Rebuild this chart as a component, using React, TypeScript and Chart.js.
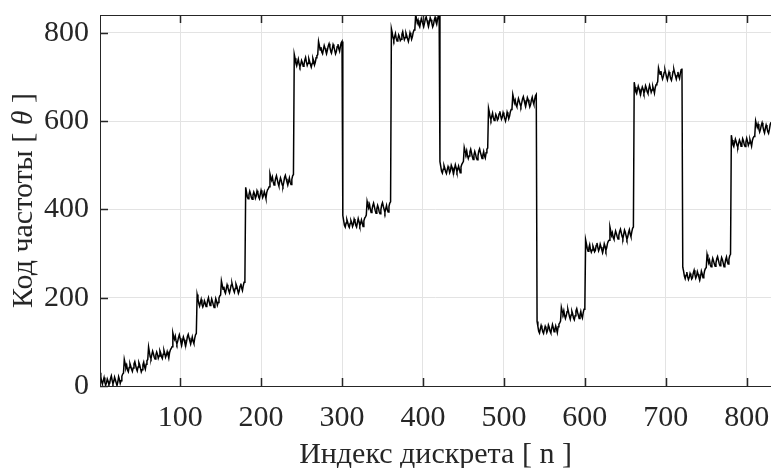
import React, { useEffect, useRef } from "react";
import { Chart, registerables } from "chart.js";

Chart.register(...registerables);

// Axis settings
const X_MIN = 1;
const X_MAX = 830;
const Y_MIN = 0;
const Y_MAX = 840;
const xTickValues = [100, 200, 300, 400, 500, 600, 700, 800];
const yTickValues = [0, 200, 400, 600, 800];
const xTitle = "Индекс дискрета [ n ]";
const yTitleParts = ["Код частоты [ ", "θ", " ]"];

// Frequency code samples, n = 1..830 (60 samples per block)
const block01 = [
  30, 21, 10, 4, 12, 19, 8, 2, 7, 16, 11, 3, 6, 17, 23, 13, 5, 10, 20, 14, 7, 1, 9, 21, 15, 6, 12, 22, 27, 29,
  60, 51, 41, 47, 36, 32, 42, 51, 45, 38, 33, 41, 50, 55, 47, 39, 34, 43, 53, 48, 40, 32, 37, 48, 54, 44, 38, 49, 57, 60,
];
const block02 = [
  88, 77, 66, 62, 71, 79, 73, 65, 61, 70, 77, 72, 63, 68, 80, 75, 66, 62, 72, 81, 74, 65, 70, 78, 71, 63, 76, 82, 85, 89,
  120, 112, 106, 113, 102, 95, 101, 110, 116, 108, 99, 93, 103, 111, 105, 96, 92, 101, 112, 117, 109, 102, 95, 103, 111, 101, 96, 108, 116, 119,
];
const block03 = [
  207, 198, 187, 181, 189, 196, 185, 179, 184, 193, 188, 180, 183, 194, 200, 190, 182, 187, 197, 191, 184, 178, 186, 198, 192, 183, 189, 199, 204, 206,
  238, 229, 219, 225, 214, 210, 220, 229, 223, 216, 211, 219, 228, 233, 225, 217, 212, 221, 231, 226, 218, 210, 215, 226, 232, 222, 216, 227, 235, 238,
];
const block04 = [
  450, 439, 428, 424, 433, 441, 435, 427, 423, 432, 439, 434, 425, 430, 442, 437, 428, 424, 434, 443, 436, 427, 432, 440, 433, 425, 438, 444, 447, 451,
  480, 472, 466, 473, 462, 455, 461, 470, 476, 468, 459, 453, 463, 471, 465, 456, 452, 461, 472, 477, 469, 462, 455, 463, 471, 461, 456, 468, 476, 479,
];
const block05 = [
  751, 742, 731, 725, 733, 740, 729, 723, 728, 737, 732, 724, 727, 738, 744, 734, 726, 731, 741, 735, 728, 722, 730, 742, 736, 727, 733, 743, 748, 750,
  780, 771, 761, 767, 756, 752, 762, 771, 765, 758, 753, 761, 770, 775, 767, 759, 754, 763, 773, 768, 760, 752, 757, 768, 774, 764, 758, 769, 777, 780,
];
const block06 = [
  386, 375, 364, 360, 369, 377, 371, 363, 359, 368, 375, 370, 361, 366, 378, 373, 364, 360, 370, 379, 372, 363, 368, 376, 369, 361, 374, 380, 383, 387,
  418, 410, 404, 411, 400, 393, 399, 408, 414, 406, 397, 391, 401, 409, 403, 394, 390, 399, 410, 415, 407, 400, 393, 401, 409, 399, 394, 406, 414, 417,
];
const block07 = [
  809, 800, 789, 783, 791, 798, 787, 781, 786, 795, 790, 782, 785, 796, 802, 792, 784, 789, 799, 793, 786, 780, 788, 800, 794, 785, 791, 801, 806, 808,
  841, 832, 822, 828, 817, 813, 823, 832, 826, 819, 814, 822, 831, 836, 828, 820, 815, 824, 834, 829, 821, 813, 818, 829, 835, 825, 819, 830, 838, 841,
];
const block08 = [
  508, 497, 486, 482, 491, 499, 493, 485, 481, 490, 497, 492, 483, 488, 500, 495, 486, 482, 492, 501, 494, 485, 490, 498, 491, 483, 496, 502, 505, 509,
  540, 532, 526, 533, 522, 515, 521, 530, 536, 528, 519, 513, 523, 531, 525, 516, 512, 521, 532, 537, 529, 522, 515, 523, 531, 521, 516, 528, 536, 539,
];
const block09 = [
  629, 620, 609, 603, 611, 618, 607, 601, 606, 615, 610, 602, 605, 616, 622, 612, 604, 609, 619, 613, 606, 600, 608, 620, 614, 605, 611, 621, 626, 628,
  660, 651, 641, 647, 636, 632, 642, 651, 645, 638, 633, 641, 650, 655, 647, 639, 634, 643, 653, 648, 640, 632, 637, 648, 654, 644, 638, 649, 657, 660,
];
const block10 = [
  146, 135, 124, 120, 129, 137, 131, 123, 119, 128, 135, 130, 121, 126, 138, 133, 124, 120, 130, 139, 132, 123, 128, 136, 129, 121, 134, 140, 143, 147,
  178, 170, 164, 171, 160, 153, 159, 168, 174, 166, 157, 151, 161, 169, 163, 154, 150, 159, 170, 175, 167, 160, 153, 161, 169, 159, 154, 166, 174, 177,
];
const block11 = [
  331, 322, 311, 305, 313, 320, 309, 303, 308, 317, 312, 304, 307, 318, 324, 314, 306, 311, 321, 315, 308, 302, 310, 322, 316, 307, 313, 323, 328, 330,
  360, 351, 341, 347, 336, 332, 342, 351, 345, 338, 333, 341, 350, 355, 347, 339, 334, 343, 353, 348, 340, 332, 337, 348, 354, 344, 338, 349, 357, 360,
];
const block12 = [
  688, 677, 666, 662, 671, 679, 673, 665, 661, 670, 677, 672, 663, 668, 680, 675, 666, 662, 672, 681, 674, 665, 670, 678, 671, 663, 676, 682, 685, 689,
  720, 712, 706, 713, 702, 695, 701, 710, 716, 708, 699, 693, 703, 711, 705, 696, 692, 701, 712, 717, 709, 702, 695, 703, 711, 701, 696, 708, 716, 719,
];
const block13 = [
  269, 260, 249, 243, 251, 258, 247, 241, 246, 255, 250, 242, 245, 256, 262, 252, 244, 249, 259, 253, 246, 240, 248, 260, 254, 245, 251, 261, 266, 268,
  298, 289, 279, 285, 274, 270, 280, 289, 283, 276, 271, 279, 288, 293, 285, 277, 272, 281, 291, 286, 278, 270, 275, 286, 292, 282, 276, 287, 295, 298,
];
const block14 = [
  568, 557, 546, 542, 551, 559, 553, 545, 541, 550, 557, 552, 543, 548, 560, 555, 546, 542, 552, 561, 554, 545, 550, 558, 551, 543, 556, 562, 565, 569,
  600, 592, 586, 593, 582, 575, 581, 590, 596, 588, 579, 573, 583, 591, 585, 576, 572, 581, 592, 597,
];

const theta: number[] = [
  ...block01, ...block02, ...block03, ...block04, ...block05, ...block06, ...block07,
  ...block08, ...block09, ...block10, ...block11, ...block12, ...block13, ...block14,
];

const AXIS_COLOR = "#262626";
const GRID_COLOR = "#e3e3e3";
const FONT_FAMILY = '"Liberation Serif", "Times New Roman", serif';
const FONT_SIZE = 30;

const framePlugin = {
  id: "frame",
  afterDraw(chart: any) {
    const { ctx, chartArea } = chart;
    const { left, right, top, bottom } = chartArea;
    const xs = chart.scales.x;
    const ys = chart.scales.y;
    ctx.save();
    ctx.strokeStyle = AXIS_COLOR;
    ctx.lineWidth = 1;
    ctx.beginPath();
    ctx.moveTo(Math.round(left) + 0.5, top);
    ctx.lineTo(Math.round(left) + 0.5, bottom + 0.5);
    ctx.moveTo(left, Math.round(bottom) + 0.5);
    ctx.lineTo(right + 2, Math.round(bottom) + 0.5);
    ctx.moveTo(left, Math.round(top) + 0.5);
    ctx.lineTo(right + 2, Math.round(top) + 0.5);
    ctx.stroke();
    ctx.lineWidth = 1.5;
    ctx.beginPath();
    const tl = 8;
    for (const v of xTickValues) {
      const px = Math.round(xs.getPixelForValue(v)) + 0.5;
      ctx.moveTo(px, bottom);
      ctx.lineTo(px, bottom - tl);
      ctx.moveTo(px, top);
      ctx.lineTo(px, top + tl);
    }
    for (const v of yTickValues) {
      const py = Math.round(ys.getPixelForValue(v)) + 0.5;
      ctx.moveTo(left, py);
      ctx.lineTo(left + tl, py);
    }
    ctx.stroke();

    ctx.fillStyle = AXIS_COLOR;
    ctx.font = `${FONT_SIZE}px ${FONT_FAMILY}`;
    ctx.textAlign = "center";
    ctx.textBaseline = "alphabetic";
    ctx.fillText(xTitle, (left + right) / 2, 463);

    const fonts = [
      `${FONT_SIZE}px ${FONT_FAMILY}`,
      `italic ${FONT_SIZE}px ${FONT_FAMILY}`,
      `${FONT_SIZE}px ${FONT_FAMILY}`,
    ];
    let total = 0;
    const widths: number[] = [];
    yTitleParts.forEach((t, i) => {
      ctx.font = fonts[i];
      const w = ctx.measureText(t).width;
      widths.push(w);
      total += w;
    });
    ctx.translate(32, (top + bottom) / 2);
    ctx.rotate(-Math.PI / 2);
    ctx.textAlign = "left";
    let x = -total / 2;
    yTitleParts.forEach((t, i) => {
      ctx.font = fonts[i];
      ctx.fillText(t, x, 0);
      x += widths[i];
    });
    ctx.restore();
  },
};

export default function App() {
  const canvasRef = useRef<HTMLCanvasElement | null>(null);

  useEffect(() => {
    document.body.style.margin = "0";
    const canvas = canvasRef.current;
    if (!canvas) return;
    const points = theta.map((v, i) => ({ x: i + 1, y: v }));
    const chart = new Chart(canvas, {
      type: "line",
      data: {
        datasets: [
          {
            data: points,
            borderColor: "#000000",
            borderWidth: 1.5,
            pointRadius: 0,
            tension: 0,
            fill: false,
          },
        ],
      },
      options: {
        animation: false,
        responsive: false,
        devicePixelRatio: 1,
        parsing: false,
        layout: { padding: { top: 15, left: 0, right: 0, bottom: 0 } },
        plugins: {
          legend: { display: false },
          tooltip: { enabled: false },
        },
        scales: {
          x: {
            type: "linear",
            min: X_MIN,
            max: X_MAX,
            afterBuildTicks: (scale: any) => {
              scale.ticks = xTickValues.map((v) => ({ value: v }));
            },
            afterFit: (scale: any) => {
              scale.height = 82;
              scale.paddingLeft = 0;
              scale.paddingRight = 0;
            },
            grid: { color: GRID_COLOR, lineWidth: 1, drawTicks: false },
            border: { display: false },
            ticks: {
              color: AXIS_COLOR,
              font: { family: FONT_FAMILY, size: FONT_SIZE },
              padding: 14,
              maxRotation: 0,
              autoSkip: false,
              callback: (v: any) => String(v),
            },
          },
          y: {
            type: "linear",
            min: Y_MIN,
            max: Y_MAX,
            afterBuildTicks: (scale: any) => {
              scale.ticks = yTickValues.map((v) => ({ value: v }));
            },
            afterFit: (scale: any) => {
              scale.width = 100;
              scale.paddingTop = 0;
              scale.paddingBottom = 0;
            },
            grid: { color: GRID_COLOR, lineWidth: 1, drawTicks: false },
            border: { display: false },
            ticks: {
              color: AXIS_COLOR,
              font: { family: FONT_FAMILY, size: FONT_SIZE },
              padding: 11,
              autoSkip: false,
              callback: (v: any) => String(v),
            },
          },
        },
      },
      plugins: [framePlugin],
    });
    return () => chart.destroy();
  }, []);

  return (
    <div style={{ width: 771, height: 468 }}>
      <canvas ref={canvasRef} width={771} height={468} style={{ display: "block" }} />
    </div>
  );
}
